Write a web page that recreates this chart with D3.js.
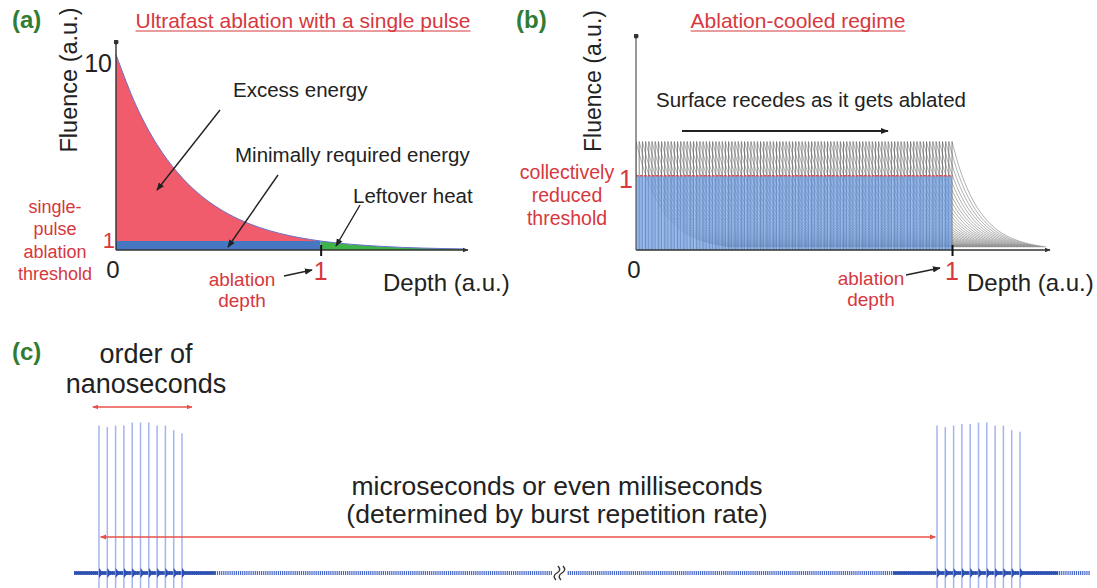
<!DOCTYPE html>
<html>
<head>
<meta charset="utf-8">
<script src="https://cdnjs.cloudflare.com/ajax/libs/d3/7.8.5/d3.min.js"></script>
<style>
  body { margin: 0; background: #fff; }
  svg { display: block; font-family: "Liberation Sans", Arial, sans-serif; }
</style>
</head>
<body>
<svg id="fig" width="1097" height="588"></svg>
<script>
// ---- panel (a): single pulse, fluence vs depth (depth in units of ablation depth)
var depthA   = [0, 0.1, 0.2, 0.3, 0.4, 0.5, 0.6, 0.7, 0.8, 0.9, 1.0, 1.1, 1.2, 1.3, 1.4, 1.5, 1.6, 1.7];
var fluenceA = [10.3, 8.16, 6.46, 5.12, 4.05, 3.21, 2.54, 2.01, 1.59, 1.26, 1.0, 0.79, 0.63, 0.5, 0.39, 0.31, 0.25, 0.2];
var thresholdA = 1, ablDepthA = 1;
var yTickValsA = [1, 10];
var yTickLabelsA = ["1", "10"];

// ---- panel (b): ablation-cooled burst, every pulse has the same decay profile
var pulseCountB = 100;
var decayOffsetB  = [0, 0.02, 0.04, 0.07, 0.1, 0.14, 0.18, 0.23, 0.3];
var decayFluenceB = [1.46, 1.15, 0.91, 0.64, 0.45, 0.28, 0.175, 0.097, 0.04];
var thresholdB = 1, ablDepthB = 1;

// ---- panel (c): two bursts of 11 pulses, amplitudes normalised
var spikeIdx  = [0, 1, 2, 3, 4, 5, 6, 7, 8, 9, 10];
var burst1Amp = [0.97, 0.96, 0.97, 0.97, 0.99, 0.99, 0.99, 0.97, 0.97, 0.94, 0.92];
var burst2Amp = [0.97, 0.96, 0.97, 0.98, 0.98, 0.99, 0.99, 0.97, 0.97, 0.94, 0.93];
var trace1Span = [-3, 54.6], trace2Span = [-44.5, 18.4];   // baseline extent (pulse periods)
var noise1Span = [-3, 14],   noise2Span = [-5.3, 14.6];    // ringing around the bursts

var RED = "#d6383d", GREEN = "#2f7d34", INK = "#222";

var svg = d3.select("#fig");
var defs = svg.append("defs");

function arrowMarker(id, color, size) {
  defs.append("marker").attr("id", id)
    .attr("viewBox", "0 0 10 10").attr("refX", 9).attr("refY", 5)
    .attr("markerWidth", size).attr("markerHeight", size)
    .attr("markerUnits", "userSpaceOnUse")
    .attr("orient", "auto-start-reverse")
    .append("path").attr("d", "M0,1L10,5L0,9z").attr("fill", color);
}
arrowMarker("arrK", INK, 8);
arrowMarker("arrAx", "#333", 6);
arrowMarker("arrR", "#e8504a", 6);
defs.append("marker").attr("id", "dot")
  .attr("viewBox", "0 0 10 10").attr("refX", 5).attr("refY", 5)
  .attr("markerWidth", 5).attr("markerHeight", 5).attr("markerUnits", "userSpaceOnUse")
  .append("circle").attr("cx", 5).attr("cy", 5).attr("r", 5).attr("fill", "#333");

function text(g, x, y, s, size, color, anchor, weight) {
  var t = g.append("text").attr("x", x).attr("y", y).text(s)
    .attr("font-size", size).attr("fill", color || INK)
    .attr("text-anchor", anchor || "start");
  if (weight) t.attr("font-weight", weight);
  return t;
}
function lines(g, x, y, arr, step, size, color) {
  var t = g.append("text").attr("font-size", size).attr("fill", color).attr("text-anchor", "middle");
  arr.forEach(function(s, i) {
    t.append("tspan").attr("x", x).attr("y", y + i * step).text(s);
  });
  return t;
}
function arrow(g, x1, y1, x2, y2, w) {
  return g.append("line").attr("x1", x1).attr("y1", y1).attr("x2", x2).attr("y2", y2)
    .attr("stroke", INK).attr("stroke-width", w || 1.4).attr("marker-end", "url(#arrK)");
}
function title(g, x, y, s) {
  var t = text(g, x, y, s, 21, RED, "middle");
  var bb = t.node().getBBox();
  g.append("line").attr("x1", bb.x).attr("x2", bb.x + bb.width).attr("y1", y + 3).attr("y2", y + 3)
    .attr("stroke", RED).attr("stroke-width", 1.1);
}
function rotLabel(g, x, y, s, size) {
  g.append("text").attr("transform", "translate(" + x + "," + y + ") rotate(-90)")
    .attr("text-anchor", "middle").attr("font-size", size).attr("fill", INK).text(s);
}

// ================= (a) =================
var xA = d3.scaleLinear().domain([0, 1.72]).range([116, 468]);
var yA = d3.scalePow().exponent(1.32).domain([0, 10.8]).range([250, 42]);
var ptsA = depthA.map(function(d, i) { return {d: d, f: fluenceA[i]}; });
var gA = svg.append("g");

gA.append("rect")
  .attr("x", xA(0)).attr("y", yA(thresholdA))
  .attr("width", xA(ablDepthA) - xA(0)).attr("height", yA(0) - yA(thresholdA))
  .attr("fill", "#4677c2");
gA.append("path").datum(ptsA.filter(function(p) { return p.d <= ablDepthA; }))
  .attr("d", d3.area().curve(d3.curveMonotoneX)
    .x(function(p) { return xA(p.d); }).y0(yA(thresholdA)).y1(function(p) { return yA(p.f); }))
  .attr("fill", "#f05c6b");
gA.append("path").datum(ptsA.filter(function(p) { return p.d >= ablDepthA; }))
  .attr("d", d3.area().curve(d3.curveMonotoneX)
    .x(function(p) { return xA(p.d); }).y0(yA(0)).y1(function(p) { return yA(p.f); }))
  .attr("fill", "#3db34a");
gA.append("path").datum(ptsA)
  .attr("d", d3.line().curve(d3.curveMonotoneX)
    .x(function(p) { return xA(p.d); }).y(function(p) { return yA(p.f); }))
  .attr("fill", "none").attr("stroke", "#6c6fca").attr("stroke-width", 1);

// axes
gA.append("line").attr("x1", xA(0)).attr("x2", xA.range()[1]).attr("y1", yA(0)).attr("y2", yA(0))
  .attr("stroke", "#333").attr("stroke-width", 1.6).attr("marker-end", "url(#arrAx)");
gA.append("line").attr("x1", xA(0)).attr("x2", xA(0)).attr("y1", yA(0)).attr("y2", yA.range()[1])
  .attr("stroke", "#333").attr("stroke-width", 1.4).attr("marker-end", "url(#dot)");
var tkA = gA.append("g").attr("transform", "translate(0," + yA(0) + ")")
  .call(d3.axisBottom(xA).tickValues([ablDepthA]).tickSizeOuter(0).tickFormat(""));
tkA.select(".domain").remove();
tkA.selectAll(".tick line").attr("y1", -5).attr("y2", 6).attr("stroke", "#111").attr("stroke-width", 2);

gA.selectAll(".ytl").data(yTickValsA).join("text").attr("class", "ytl")
  .attr("x", function(v) { return v === thresholdA ? xA(0) - 1 : xA(0) - 4; })
  .attr("y", function(v) { return yA(v) + (v === thresholdA ? 7 : 10); })
  .attr("text-anchor", "end")
  .attr("font-size", function(v) { return v === thresholdA ? 22 : 25; })
  .attr("fill", function(v) { return v === thresholdA ? RED : INK; })
  .text(function(v, i) { return yTickLabelsA[i]; });
text(gA, xA(0) - 3, 278, "0", 24, INK, "middle");
text(gA, xA(ablDepthA), 280, "1", 25, RED, "middle");

text(gA, 12, 28, "(a)", 24, GREEN, "start", "bold");
title(gA, 303, 28, "Ultrafast ablation with a single pulse");
rotLabel(gA, 77, 80, "Fluence (a.u.)", 23.5);
text(gA, 383, 291, "Depth (a.u.)", 24);
text(gA, 233, 97, "Excess energy", 20.5);
text(gA, 235, 162, "Minimally required energy", 20.5);
text(gA, 353, 203, "Leftover heat", 20.5);
arrow(gA, 220, 110, 157, 190);
arrow(gA, 278, 175, 228, 247);
arrow(gA, 360, 205, 336, 246);
lines(gA, 55, 213, ["single-", "pulse", "ablation", "threshold"], 22.3, 18, RED);
lines(gA, 242, 286, ["ablation", "depth"], 21, 19, RED);
arrow(gA, 284, 276, 312, 270, 1.3);

// ================= (b) =================
var xB = d3.scaleLinear().domain([0, 1.31]).range([636, 1050]);
var yB = d3.scaleLinear().domain([0, 2.88]).range([250, 36]);
var gB = svg.append("g");
defs.append("clipPath").attr("id", "clipB").append("rect")
  .attr("x", xB(0)).attr("y", 0).attr("width", xB.range()[1] - xB(0) - 4).attr("height", yB(0));

var pulsesB = d3.range(pulseCountB).map(function(i) { return ablDepthB * i / (pulseCountB - 1); });
var decayLine = d3.line().curve(d3.curveMonotoneX)
  .x(function(p) { return xB(p[0]); }).y(function(p) { return yB(p[1]); });
var gCur = gB.append("g").attr("clip-path", "url(#clipB)")
  .attr("fill", "none").attr("stroke", "#666").attr("stroke-opacity", 0.75).attr("stroke-width", 0.7);
gCur.selectAll("path").data(pulsesB).join("path")
  .attr("d", function(p) {
    return decayLine(decayOffsetB.map(function(o, i) { return [p + o, decayFluenceB[i]]; }));
  });
gCur.selectAll("line").data(pulsesB).join("line")
  .attr("x1", function(p) { return xB(p); }).attr("x2", function(p) { return xB(p); })
  .attr("y1", yB(0)).attr("y2", yB(decayFluenceB[0]))
  .attr("stroke", "#555").attr("stroke-opacity", 0.8).attr("stroke-width", 0.9);

gB.append("rect")
  .attr("x", xB(0)).attr("y", yB(thresholdB))
  .attr("width", xB(ablDepthB) - xB(0)).attr("height", yB(0) - yB(thresholdB))
  .attr("fill", "#6495dc").attr("fill-opacity", 0.72);
// light stripes of the individual pulses through the blue block
gB.append("g").attr("stroke", "#fff").attr("stroke-opacity", 0.22).attr("stroke-width", 0.8)
  .selectAll("line").data(pulsesB.filter(function(p, i) { return i % 2 === 0; })).join("line")
  .attr("x1", function(p) { return xB(p) + 1; }).attr("x2", function(p) { return xB(p) + 1; })
  .attr("y1", yB(0)).attr("y2", yB(thresholdB));
gB.append("line").attr("x1", xB(0)).attr("x2", xB(ablDepthB)).attr("y1", yB(thresholdB)).attr("y2", yB(thresholdB))
  .attr("stroke", "#e04a4a").attr("stroke-width", 1.6).attr("stroke-dasharray", "2.5,1.5");

gB.append("line").attr("x1", xB(0)).attr("x2", xB.range()[1]).attr("y1", yB(0)).attr("y2", yB(0))
  .attr("stroke", "#333").attr("stroke-width", 1.6).attr("marker-end", "url(#arrAx)");
gB.append("line").attr("x1", xB(0)).attr("x2", xB(0)).attr("y1", yB(0)).attr("y2", yB.range()[1])
  .attr("stroke", "#555").attr("stroke-width", 1.2).attr("marker-end", "url(#dot)");
var tkB = gB.append("g").attr("transform", "translate(0," + yB(0) + ")")
  .call(d3.axisBottom(xB).tickValues([ablDepthB]).tickSizeOuter(0).tickFormat(""));
tkB.select(".domain").remove();
tkB.selectAll(".tick line").attr("y1", -5).attr("y2", 6).attr("stroke", "#111").attr("stroke-width", 2);

text(gB, xB(0) - 2, 278, "0", 24, INK, "middle");
text(gB, xB(0) - 3, yB(thresholdB) + 12, "1", 25, RED, "end");
text(gB, xB(ablDepthB), 280, "1", 25, RED, "middle");

text(gB, 516, 28, "(b)", 24, GREEN, "start", "bold");
title(gB, 798, 28, "Ablation-cooled regime");
rotLabel(gB, 601, 81, "Fluence (a.u.)", 23);
text(gB, 967, 291, "Depth (a.u.)", 24);
text(gB, 656, 107, "Surface recedes as it gets ablated", 20.5);
arrow(gB, 682, 131, 888, 131, 2);
lines(gB, 567, 179, ["collectively", "reduced", "threshold"], 23, 19.5, RED);
lines(gB, 871, 285, ["ablation", "depth"], 21, 19, RED);
arrow(gB, 906, 275, 940, 268, 1.3);

// ================= (c) =================
var xC1 = d3.scaleLinear().domain([0, 10]).range([99, 182]);
var xC2 = d3.scaleLinear().domain([0, 10]).range([937, 1020]);
var yC = d3.scaleLinear().domain([0, 1]).range([573, 421]);
var gC = svg.append("g");

[[xC1, trace1Span, noise1Span], [xC2, trace2Span, noise2Span]].forEach(function(b) {
  var sx = b[0];
  gC.append("line").attr("x1", sx(b[1][0])).attr("x2", sx(b[1][1])).attr("y1", yC(0)).attr("y2", yC(0))
    .attr("stroke", "#4466c4").attr("stroke-width", 4).attr("stroke-dasharray", "1.2,0.9");
  gC.append("line").attr("x1", sx(b[2][0])).attr("x2", sx(b[2][1])).attr("y1", yC(0)).attr("y2", yC(0))
    .attr("stroke", "#2c50b0").attr("stroke-width", 3.5);
});

// axis break mark
var brk = (xC1(trace1Span[1]) + xC2(trace2Span[0])) / 2;
[-3, 2].forEach(function(dx) {
  gC.append("path")
    .attr("d", "M" + (brk + dx - 1) + "," + (yC(0) + 7) + " q-4,-4 1,-7 t1,-7")
    .attr("fill", "none").attr("stroke", "#333").attr("stroke-width", 1.4);
});

[[xC1, burst1Amp], [xC2, burst2Amp]].forEach(function(b) {
  var sx = b[0], amp = b[1];
  gC.selectAll(null).data(spikeIdx).join("line")
    .attr("x1", function(i) { return sx(i); }).attr("x2", function(i) { return sx(i); })
    .attr("y1", function(i) { return yC(amp[i]); }).attr("y2", yC(-0.1))
    .attr("stroke", "#a3b4ee").attr("stroke-width", 1.5);
  gC.selectAll(null).data(spikeIdx).join("path")
    .attr("d", function(i) {
      var x = sx(i), y = yC(0);
      return "M" + x + "," + (y - 5) + "L" + (x + 4) + "," + y + "L" + x + "," + (y + 5) + "z";
    })
    .attr("fill", "#2c50b0");
});

gC.append("line").attr("x1", xC1(-0.75)).attr("x2", xC1(11.2)).attr("y1", 407).attr("y2", 407)
  .attr("stroke", "#e8504a").attr("stroke-width", 1.4)
  .attr("marker-start", "url(#arrR)").attr("marker-end", "url(#arrR)");
gC.append("line").attr("x1", xC1(0.2)).attr("x2", xC2(-0.2)).attr("y1", 537).attr("y2", 537)
  .attr("stroke", "#e8504a").attr("stroke-width", 1.4)
  .attr("marker-start", "url(#arrR)").attr("marker-end", "url(#arrR)");

text(gC, 12, 360, "(c)", 24, GREEN, "start", "bold");
lines(gC, 146, 363, ["order of", "nanoseconds"], 30, 27, INK);
lines(gC, 557, 495, ["microseconds or even milliseconds", "(determined by burst repetition rate)"], 28, 26.5, INK);
</script>
</body>
</html>
